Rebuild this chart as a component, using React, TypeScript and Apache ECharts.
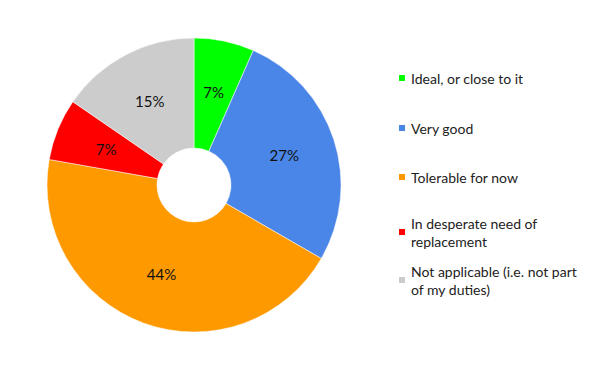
import React, { useEffect, useRef } from "react";
import * as echarts from "echarts";

const categories = [
  "Ideal, or close to it",
  "Very good",
  "Tolerable for now",
  "In desperate need of replacement",
  "Not applicable (i.e. not part of my duties)",
];
const legendLabels = [
  "Ideal, or close to it",
  "Very good",
  "Tolerable for now",
  "In desperate need of\nreplacement",
  "Not applicable (i.e. not part\nof my duties)",
];
const values = [6.6, 26.7, 44.4, 6.8, 15.4];
const colors = ["#00ff00", "#4a86e8", "#ff9900", "#ff0000", "#cccccc"];

const FONT = "Lato, 'Noto Sans', sans-serif";

export default function App() {
  const ref = useRef<HTMLDivElement>(null);
  useEffect(() => {
    document.body.style.margin = "0";
    if (!ref.current) return;
    const chart = echarts.init(ref.current, null, { renderer: "svg" });
    const total = values.reduce((a, b) => a + b, 0);
    const legendTops = [69, 119, 168, 216, 264];
    const legends = categories.map((name, i) => {
      const twoLine = legendLabels[i].includes("\n");
      return {
        left: 397,
        top: legendTops[i],
        orient: "vertical",
        data: [name],
        icon: "rect",
        itemWidth: 8,
        itemHeight: 8,
        itemGap: 5,
        padding: 0,
        selectedMode: false,
        formatter: () => legendLabels[i],
        textStyle: {
          fontFamily: FONT,
          fontSize: 14,
          color: "#222",
          lineHeight: 18,
          padding: twoLine ? [0, 0, -18, 0] : 0,
        },
      };
    });
    chart.setOption({
      animation: false,
      color: colors,
      legend: legends,
      series: [
        {
          type: "pie",
          center: [194, 185],
          radius: [37, 147],
          startAngle: 90,
          clockwise: true,
          avoidLabelOverlap: false,
          itemStyle: { borderColor: "#ffffff", borderWidth: 0.5 },
          label: {
            show: true,
            position: "inside",
            fontFamily: FONT,
            fontSize: 15,
            color: "#111",
            formatter: (p: any) => Math.round((p.value / total) * 100) + "%",
          },
          labelLine: { show: false },
          emphasis: { disabled: true },
          data: categories.map((name, i) => ({ name, value: values[i] })),
        },
      ],
    });
    return () => chart.dispose();
  }, []);
  return <div ref={ref} style={{ width: 600, height: 371 }} />;
}
